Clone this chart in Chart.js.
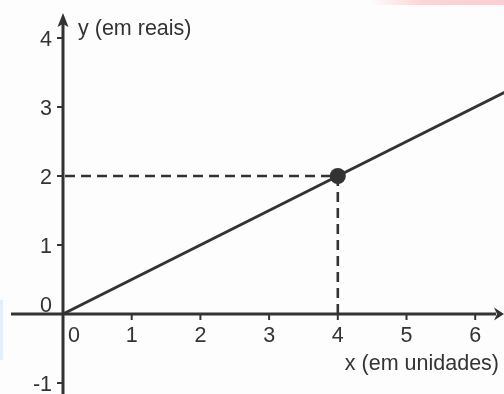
<!DOCTYPE html>
<html>
<head>
<meta charset="utf-8">
<script src="https://cdn.jsdelivr.net/npm/chart.js@4/dist/chart.umd.min.js"></script>
<style>
  html, body { margin: 0; padding: 0; background: #fdfdfd; }
  body { width: 504px; height: 394px; overflow: hidden; position: relative; }
  #wm-top { position: absolute; left: 370px; top: 0; width: 134px; height: 5px;
    background: linear-gradient(to right, rgba(250,210,210,0), #fad4d6 40%, #f9cfd3); }
  #wm-left { position: absolute; left: 0; top: 300px; width: 3px; height: 60px; background: #e3eefb; }
  canvas { position: absolute; left: 0; top: 0; }
</style>
</head>
<body>
<div id="wm-top"></div>
<div id="wm-left"></div>
<canvas id="c" width="504" height="394"></canvas>
<script>
// ---- data ----
const lineX = [0, 4, 7];
const lineY = [0, 2, 3.5];
const markX = [4];
const markY = [2];
const xTicks = [0, 1, 2, 3, 4, 5, 6];
const yTicks = [-1, 0, 1, 2, 3, 4];
const xTitle = 'x (em unidades)';
const yTitle = 'y (em reais)';

const INK = '#333333';
const FONT = '21.5px "Liberation Sans", Arial, sans-serif';

const axesPlugin = {
  id: 'axes',
  beforeDatasetsDraw(chart) {
    const ctx = chart.ctx;
    const xs = chart.scales.x, ys = chart.scales.y;
    const ox = xs.getPixelForValue(0), oy = ys.getPixelForValue(0);
    ctx.save();
    ctx.strokeStyle = INK; ctx.fillStyle = INK;

    // dashed guides to the marked point
    ctx.lineWidth = 2.6;
    ctx.setLineDash([10, 6]);
    for (let i = 0; i < markX.length; i++) {
      const px = xs.getPixelForValue(markX[i]), py = ys.getPixelForValue(markY[i]);
      ctx.beginPath(); ctx.moveTo(ox + 2, py); ctx.lineTo(px, py); ctx.stroke();
      ctx.beginPath(); ctx.moveTo(px, py); ctx.lineTo(px, oy); ctx.stroke();
    }
    ctx.setLineDash([]);

    // axes
    ctx.lineWidth = 3;
    ctx.beginPath(); ctx.moveTo(11, oy); ctx.lineTo(496, oy); ctx.stroke();
    ctx.beginPath(); ctx.moveTo(ox, 394); ctx.lineTo(ox, 24); ctx.stroke();
    // arrowheads
    ctx.beginPath();
    ctx.moveTo(504, oy); ctx.lineTo(494, oy - 6.5); ctx.lineTo(497, oy); ctx.lineTo(494, oy + 6.5);
    ctx.closePath(); ctx.fill();
    ctx.beginPath();
    ctx.moveTo(ox, 13); ctx.lineTo(ox - 5.5, 27); ctx.lineTo(ox, 24); ctx.lineTo(ox + 5.5, 27);
    ctx.closePath(); ctx.fill();

    // ticks and labels
    ctx.lineWidth = 2;
    ctx.font = FONT;
    xTicks.forEach(v => {
      const px = xs.getPixelForValue(v);
      ctx.textBaseline = 'alphabetic';
      if (v !== 0) {
        ctx.beginPath(); ctx.moveTo(px, oy); ctx.lineTo(px, oy + 6); ctx.stroke();
        ctx.textAlign = 'center';
        ctx.fillText(String(v), px, oy + 28);
      } else {
        ctx.textAlign = 'left';
        ctx.fillText(String(v), px + 5, oy + 28);
      }
    });
    yTicks.forEach(v => {
      const py = ys.getPixelForValue(v);
      ctx.textAlign = 'right';
      ctx.textBaseline = 'alphabetic';
      if (v !== 0) {
        ctx.beginPath(); ctx.moveTo(ox - 6, py); ctx.lineTo(ox, py); ctx.stroke();
        ctx.fillText(v < 0 ? '-' + Math.abs(v) : String(v), 52, py + 7.5);
      } else {
        ctx.fillText(String(v), 52, py - 2);
      }
    });

    // axis titles
    ctx.textAlign = 'left';
    ctx.fillText(yTitle, 78, 35);
    ctx.textAlign = 'right';
    ctx.fillText(xTitle, 499, 370);
    ctx.restore();
  }
};

new Chart(document.getElementById('c'), {
  type: 'scatter',
  data: {
    datasets: [
      {
        data: lineX.map((x, i) => ({ x, y: lineY[i] })),
        showLine: true,
        borderColor: INK,
        borderWidth: 3,
        pointRadius: 0,
        fill: false
      },
      {
        data: markX.map((x, i) => ({ x, y: markY[i] })),
        pointRadius: 8,
        pointBackgroundColor: INK,
        pointBorderWidth: 0,
        borderColor: INK
      }
    ]
  },
  options: {
    responsive: false,
    devicePixelRatio: 1,
    animation: false,
    events: [],
    layout: { padding: 0, autoPadding: false },
    plugins: { legend: { display: false }, tooltip: { enabled: false } },
    scales: {
      x: { type: 'linear', min: -0.917, max: 6.419, display: false },
      y: { type: 'linear', min: -1.159, max: 4.551, display: false }
    }
  },
  plugins: [axesPlugin]
});
</script>
</body>
</html>
